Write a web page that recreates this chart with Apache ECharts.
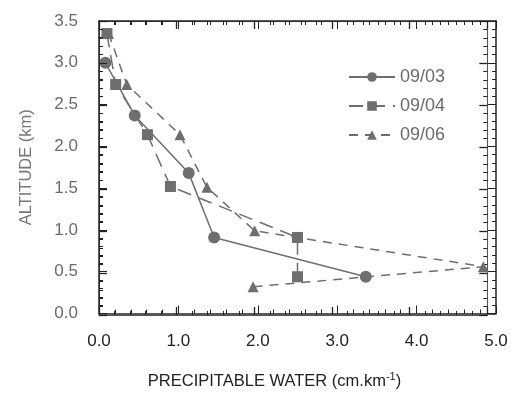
<!DOCTYPE html>
<html>
<head>
<meta charset="utf-8">
<script src="https://cdn.jsdelivr.net/npm/echarts@6/dist/echarts.min.js"></script>
<style>html,body{margin:0;padding:0;background:#fff}#c{width:515px;height:395px}</style>
</head>
<body>
<div id="c"></div>
<script>
var xTicks = [0.0, 1.0, 2.0, 3.0, 4.0, 5.0];
var yTicks = [0.0, 0.5, 1.0, 1.5, 2.0, 2.5, 3.0, 3.5];
var names = ['09/03', '09/04', '09/06'];
var x0903 = [0.08, 0.45, 1.13, 1.45, 3.36];
var y0903 = [3.0, 2.37, 1.68, 0.91, 0.44];
var x0904 = [0.1, 0.21, 0.61, 0.9, 2.5, 2.5];
var y0904 = [3.35, 2.74, 2.14, 1.52, 0.91, 0.44];
var x0906 = [0.12, 0.35, 1.02, 1.36, 1.96, 4.84, 1.94];
var y0906 = [3.35, 2.74, 2.14, 1.51, 0.99, 0.56, 0.32];

function pairs(xs, ys){ return xs.map(function(v,i){ return [v, ys[i]]; }); }
var C = '#6e6e6e';
var font = 'Liberation Sans, Arial, Helvetica, sans-serif';
var chart = echarts.init(document.getElementById('c'));
var G = {left:99, right:19, top:21, bottom:80};
function xAx(pos, show){
  return {gridIndex:0, type:'value', position:pos, min:xTicks[0], max:xTicks[xTicks.length-1], interval:1, z:5,
    axisLine:{show:true, onZero:false, lineStyle:{color:'#222', width:1.5}},
    axisTick:{show:true, inside:true, length:8},
    minorTick:{show:true, splitNumber:5, length:4},
    splitLine:{show:false},
    axisLabel:{show:show, margin:19, fontSize:17, color:'#222', fontFamily:font,
      formatter:function(v){return v.toFixed(1);}},
    name: show ? '{a|PRECIPITABLE WATER (cm.km}{s|-1}{a|)}' : '',
    nameLocation:'middle', nameGap:58,
    nameTextStyle:{padding:[0,46,0,0], rich:{a:{fontSize:16.5, color:'#222', fontFamily:font}, s:{fontSize:11, color:'#222', fontFamily:font, verticalAlign:'top', padding:[0,0,9,0]}}}
  };
}
function yAx(pos, show){
  return {gridIndex:0, type:'value', position:pos, min:yTicks[0], max:yTicks[yTicks.length-1], interval:0.5, z:5,
    axisLine:{show:true, onZero:false, lineStyle:{color:'#222', width:1.5}},
    axisTick:{show:true, inside:true, length:8},
    minorTick:{show:true, splitNumber:5, length:4},
    splitLine:{show:false},
    axisLabel:{show:show, margin:21, fontSize:17, color:'#6a6a6a', fontFamily:font,
      formatter:function(v){return v.toFixed(1);}},
    name: show ? 'ALTITUDE (km)' : '',
    nameLocation:'middle', nameGap:64, nameRotate:90,
    nameTextStyle:{fontSize:16.5, color:'#777', fontFamily:font}
  };
}
// plain tick-only axes on an overlaid grid (same place)
function tickX(pos){
  return {gridIndex:1, type:'value', position:pos, min:xTicks[0], max:xTicks[xTicks.length-1], interval:1, z:1,
    axisLine:{show:true, onZero:false},
    axisTick:{show:true, inside:true, length:8, lineStyle:{color:'#222', width:1.3}},
    minorTick:{show:true, splitNumber:5, length:4, lineStyle:{color:'#222'}},
    splitLine:{show:false},
    axisLabel:{color:'rgba(0,0,0,0)'}};
}
function tickY(pos){
  return {gridIndex:1, type:'value', position:pos, min:yTicks[0], max:yTicks[yTicks.length-1], interval:0.5, z:1,
    axisLine:{show:true, onZero:false},
    axisTick:{show:true, inside:true, length:8, lineStyle:{color:'#222', width:1.3}},
    minorTick:{show:true, splitNumber:5, length:4, lineStyle:{color:'#222'}},
    splitLine:{show:false},
    axisLabel:{color:'rgba(0,0,0,0)'}};
}
chart.setOption({
  animation:false,
  backgroundColor:'#fff',
  grid:[G, G],
  xAxis:[xAx('bottom', true), xAx('top', false), tickX('bottom'), tickX('top')],
  yAxis:[yAx('left', true), yAx('right', false), tickY('left'), tickY('right')],
  legend:{orient:'vertical', left:343, top:63, itemWidth:46, itemHeight:12, itemGap:11,
    textStyle:{fontSize:18, color:'#6a6a6a', fontFamily:font}, data:names},
  series:[
    {name:names[0], type:'line', xAxisIndex:0, yAxisIndex:0, data:pairs(x0903,y0903), symbol:'circle', symbolSize:12,
      itemStyle:{color:C}, lineStyle:{color:C, width:1.5, type:'solid'}},
    {name:names[1], type:'line', xAxisIndex:0, yAxisIndex:0, data:pairs(x0904,y0904), symbol:'rect', symbolSize:11,
      itemStyle:{color:C}, lineStyle:{color:C, width:1.5, type:[14,8]}},
    {name:names[2], type:'line', xAxisIndex:0, yAxisIndex:0, data:pairs(x0906,y0906), symbol:'triangle', symbolSize:11,
      itemStyle:{color:C}, lineStyle:{color:C, width:1.5, type:[9,7]}}
  ]
});
</script>
</body>
</html>
